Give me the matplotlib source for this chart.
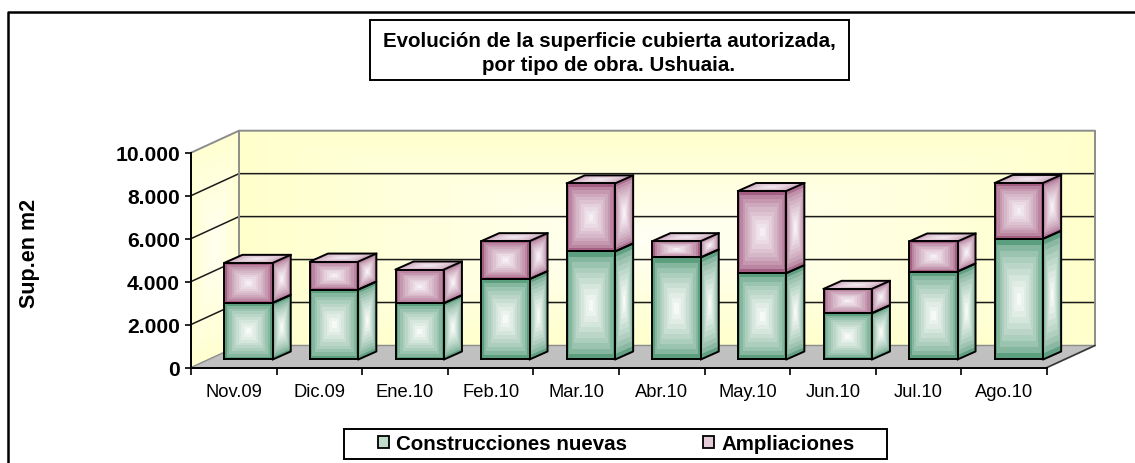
import numpy as np
import matplotlib
matplotlib.use("Agg")
import matplotlib.pyplot as plt
from matplotlib.lines import Line2D
from matplotlib.patches import Rectangle

plt.rcParams["font.family"] = ["Liberation Sans", "DejaVu Sans"]

meses = ["Nov.09", "Dic.09", "Ene.10", "Feb.10", "Mar.10", "Abr.10", "May.10", "Jun.10", "Jul.10", "Ago.10"]
nuevas = [2635, 3255, 2620, 3740, 5030, 4750, 4020, 2155, 4095, 5620]
ampliaciones = [1865, 1305, 1570, 1770, 3170, 760, 3825, 1135, 1400, 2600]
y_ticks = [0, 2000, 4000, 6000, 8000, 10000]
y_labels = ["0", "2.000", "4.000", "6.000", "8.000", "10.000"]

W, H = 1135, 464
n = len(meses)

# oblique depth of the box, in data units
DX = 48 / 85.6
DY = 1026
# bar placement inside each slot
bar_x0 = 0.39
bar_w = 0.565
bar_dx = 18 / 85.6
bar_dy = 373
bar_base = 373


def gradiente(ax, pts, borde, centro, z, pasos=10, gamma=0.6):
    """rectangular gradient: nested polygons going to the middle"""
    pts = np.array(pts, dtype=float)
    medio = pts.mean(axis=0)
    c0 = np.array(matplotlib.colors.to_rgb(borde))
    c1 = np.array(matplotlib.colors.to_rgb(centro))
    for k in range(pasos):
        t = k / pasos
        p = medio + (pts - medio) * (1 - t)
        f = (t / (1 - 1 / pasos)) ** gamma
        ax.fill(p[:, 0], p[:, 1], color=c0 + (c1 - c0) * f, lw=0, zorder=z, clip_on=False)


def linea(ax, xs, ys, color="black", lw=1.4, z=3):
    ax.plot(xs, ys, color=color, lw=lw, zorder=z, clip_on=False, solid_capstyle="projecting")


def caja(ax, x, y0, y1, cara, lado, tapa, z):
    x1 = x + bar_w
    gradiente(ax, [(x, y0), (x1, y0), (x1, y1), (x, y1)], *cara, z)
    gradiente(ax, [(x1, y0), (x1 + bar_dx, y0 + bar_dy), (x1 + bar_dx, y1 + bar_dy), (x1, y1)], *lado, z)
    linea(ax, [x, x1, x1, x, x], [y0, y0, y1, y1, y0], z=z + 1)
    linea(ax, [x1, x1 + bar_dx, x1 + bar_dx, x1], [y0, y0 + bar_dy, y1 + bar_dy, y1], z=z + 1)
    if tapa is not None:
        gradiente(ax, [(x, y1), (x1, y1), (x1 + bar_dx, y1 + bar_dy), (x + bar_dx, y1 + bar_dy)], *tapa, z)
        linea(ax, [x, x + bar_dx, x1 + bar_dx], [y1, y1 + bar_dy, y1 + bar_dy], z=z + 1)


fig = plt.figure(figsize=(W / 100, H / 100), dpi=100)
ax = fig.add_axes([191 / W, (H - 368.5) / H, (1095 - 191) / W, (368.5 - 131.7) / H])
ax.set_xlim(0, n + DX)
ax.set_ylim(0, 10000 + DY)
ax.patch.set_visible(False)

# walls and floor
gradiente(ax, [(DX, DY), (n + DX, DY), (n + DX, 10000 + DY), (DX, 10000 + DY)], "#FFFFCC", "#FFFFF4", 1, pasos=30, gamma=1)
gradiente(ax, [(0, 0), (DX, DY), (DX, 10000 + DY), (0, 10000)], "#FFFFD2", "#FFFFF0", 1, pasos=14, gamma=1)
ax.fill([0, n, n + DX, DX], [0, 0, DY, DY], color="#C0C0C0", lw=0, zorder=1, clip_on=False)

for v in y_ticks[1:-1]:
    linea(ax, [0, DX, n + DX], [v, v + DY, v + DY], color="#1a1a1a", lw=1.1, z=2)
gris = "#8c8c8c"
linea(ax, [0, DX, n + DX, n + DX, n], [10000, 10000 + DY, 10000 + DY, DY, 0], color=gris, lw=1.4, z=2)
linea(ax, [DX, DX], [DY, 10000 + DY], color=gris, lw=1.4, z=2)
linea(ax, [0, DX, n + DX], [0, DY, DY], color=gris, lw=1.0, z=2)
linea(ax, [n, n + DX], [0, DY], color="#333333", lw=1.0, z=2)

verde = (("#5C9F7E", "#F6F9F6"), ("#62A083", "#F8FBF8"))
malva = (("#A45E82", "#F5EEF3"), ("#AB6E8F", "#F8F2F6"), ("#C79DB5", "#F3EAF0"))
for i in range(n):
    x = i + bar_x0
    caja(ax, x, bar_base, bar_base + nuevas[i], verde[0], verde[1], None, 4 + 2 * i)
    caja(ax, x, bar_base + nuevas[i], bar_base + nuevas[i] + ampliaciones[i], *malva, 4 + 2 * i)

# axes
for s in ["top", "right"]:
    ax.spines[s].set_visible(False)
ax.spines["left"].set_bounds(0, 10000)
ax.spines["bottom"].set_bounds(0, n)
ax.spines["left"].set_linewidth(1.4)
ax.spines["bottom"].set_linewidth(1.4)
ax.spines["left"].set_zorder(30)
ax.spines["bottom"].set_zorder(30)
ax.set_yticks(y_ticks, y_labels, fontsize=15.2, fontweight="bold")
ax.tick_params(axis="y", length=4, width=1.2, pad=4)
ax.set_xticks(range(n + 1), [""] * (n + 1))
ax.set_xticks(np.arange(n) + 0.5, meses, minor=True, fontsize=13.2)
ax.tick_params(axis="x", which="major", length=5, width=1.2)
ax.tick_params(axis="x", which="minor", length=0, pad=11)

fig.text(29 / W, 1 - 253 / H, "Sup.en m2", rotation=90, ha="center", va="center", fontsize=15.5, fontweight="bold")

# frame runs past the picture on the right and at the bottom
fig.add_artist(Line2D([8 / W, 8 / W, 1], [0, 1 - 13 / H, 1 - 13 / H], color="black", lw=1.8))

fig.add_artist(Rectangle((369.5 / W, 1 - 81 / H), 479.5 / W, 60.5 / H, fc="white", ec="black", lw=1.4, transform=fig.transFigure))
fig.text(609 / W, 1 - 53.5 / H, "Evolución de la superficie cubierta autorizada,\npor tipo de obra. Ushuaia.",
         ha="center", va="center", fontsize=14.8, fontweight="bold", linespacing=1.28)

fig.add_artist(Rectangle((343.5 / W, 1 - 459.5 / H), 543.5 / W, 30 / H, fc="white", ec="black", lw=1.4, transform=fig.transFigure))
manejadores = [Rectangle((0, 0), 1, 1, fc="#C2DCCB", ec="black", lw=1.3),
               Rectangle((0, 0), 1, 1, fc="#E3CBD8", ec="black", lw=1.3)]
ley = fig.legend(manejadores, ["Construcciones nuevas", "Ampliaciones"], ncol=2, loc="center left",
                 bbox_to_anchor=(378 / W, 1 - 444.5 / H), frameon=False,
                 prop={"weight": "bold", "size": 14.8}, handlelength=0.55, handleheight=0.55, handletextpad=0.35,
                 columnspacing=3.65, borderpad=0, borderaxespad=0)

fig.savefig("out.png", dpi=100)
